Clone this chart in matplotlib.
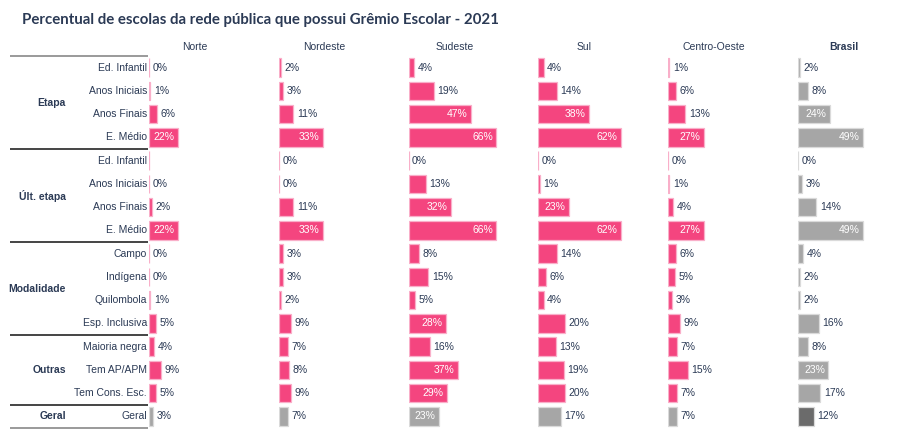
import matplotlib
matplotlib.use("Agg")
import matplotlib.pyplot as plt
import numpy as np

regions = ["Norte", "Nordeste", "Sudeste", "Sul", "Centro-Oeste", "Brasil"]
groups = ["Etapa", "Últ. etapa", "Modalidade", "Outras", "Geral"]
group_rows = [
    ["Ed. Infantil", "Anos Iniciais", "Anos Finais", "E. Médio"],
    ["Ed. Infantil", "Anos Iniciais", "Anos Finais", "E. Médio"],
    ["Campo", "Indígena", "Quilombola", "Esp. Inclusiva"],
    ["Maioria negra", "Tem AP/APM", "Tem Cons. Esc."],
    ["Geral"],
]

norte = [0, 1, 6, 22, None, 0, 2, 22, 0, 0, 1, 5, 4, 9, 5, 3]
nordeste = [2, 3, 11, 33, 0, 0, 11, 33, 3, 3, 2, 9, 7, 8, 9, 7]
sudeste = [4, 19, 47, 66, 0, 13, 32, 66, 8, 15, 5, 28, 16, 37, 29, 23]
sul = [4, 14, 38, 62, 0, 1, 23, 62, 14, 6, 4, 20, 13, 19, 20, 17]
centro_oeste = [1, 6, 13, 27, 0, 1, 4, 27, 6, 5, 3, 9, 7, 15, 7, 7]
brasil = [2, 8, 24, 49, 0, 3, 14, 49, 4, 2, 2, 16, 8, 23, 17, 12]
series = [norte, nordeste, sudeste, sul, centro_oeste, brasil]

PINK = "#F4457F"
PINK_EDGE = "#F9AFC9"
GREY = "#A6A6A6"
GREY_EDGE = "#DADADA"
DARK = "#6B6B6B"
TEXT = "#2B3A55"
FONT = ["Liberation Sans", "DejaVu Sans"]

W, H = 900, 444
fig = plt.figure(figsize=(9, 4.44), dpi=100)

row_labels = [r for g in group_rows for r in g]
n = len(row_labels)
top_px, bot_px = 56, 428
bottom = 1 - bot_px / H
height = (bot_px - top_px) / H

fig.text(22 / W, 1 - 20 / H,
         "Percentual de escolas da rede pública que possui Grêmio Escolar - 2021",
         ha="left", va="center", fontsize=10.8, fontweight="bold",
         color=TEXT, family=["Lato", "DejaVu Sans"])

# left label axis
lax = fig.add_axes([10 / W, bottom, (148 - 10) / W, height])
lax.set_xlim(10, 148)
lax.set_ylim(n - 0.5, -0.5)
lax.axis("off")
idx = 0
bounds = [-0.5]
for g, rows in zip(groups, group_rows):
    for r in rows:
        lax.text(147, idx, r, ha="right", va="center", fontsize=7.5,
                 color=TEXT, family=FONT)
        idx += 1
    lax.text(66, idx - len(rows) / 2 - 0.5, g, ha="right", va="center",
             fontsize=7.5, fontweight="bold", color=TEXT, family=FONT)
    bounds.append(idx - 0.5)
for k, b in enumerate(bounds):
    c = "#9A9A9A" if k in (0, len(bounds) - 1) else "#444444"
    lax.plot([10, 148], [b, b], color=c, lw=1.4, solid_capstyle="butt",
             clip_on=False)

col_step = 129.75
for i, (reg, vals) in enumerate(zip(regions, series)):
    left_px = 149 + i * col_step
    ax = fig.add_axes([left_px / W, bottom, 92 / W, height])
    ax.set_xlim(0, 69.2)
    ax.set_ylim(n - 0.5, -0.5)
    ax.axis("off")
    is_br = reg == "Brasil"
    for j, v in enumerate(vals):
        geral = row_labels[j] == "Geral" and j == n - 1
        if is_br:
            fc, ec = (DARK if geral else GREY), GREY_EDGE
        else:
            fc, ec = (GREY, GREY_EDGE) if geral else (PINK, PINK_EDGE)
        vv = 0 if v is None else v
        ax.barh(j, vv, height=0.79, color=fc, edgecolor=ec, linewidth=0.9)
        if v is None:
            continue
        lab = f"{v}%"
        if v > 21:
            ax.annotate(lab, (v, j), xytext=(-2.5, 0), textcoords="offset points",
                        ha="right", va="center", fontsize=7.5, color="white",
                        family=FONT)
        else:
            ax.annotate(lab, (v, j), xytext=(2.5, 0), textcoords="offset points",
                        ha="left", va="center", fontsize=7.5, color=TEXT,
                        family=FONT)
    ax.annotate(reg, (0.5, 1.0), xycoords="axes fraction", xytext=(0, 6.5),
                textcoords="offset points", ha="center", va="center",
                fontsize=7.5, color=TEXT, family=FONT,
                fontweight="bold" if is_br else "normal")

fig.savefig("out.png", dpi=100)
